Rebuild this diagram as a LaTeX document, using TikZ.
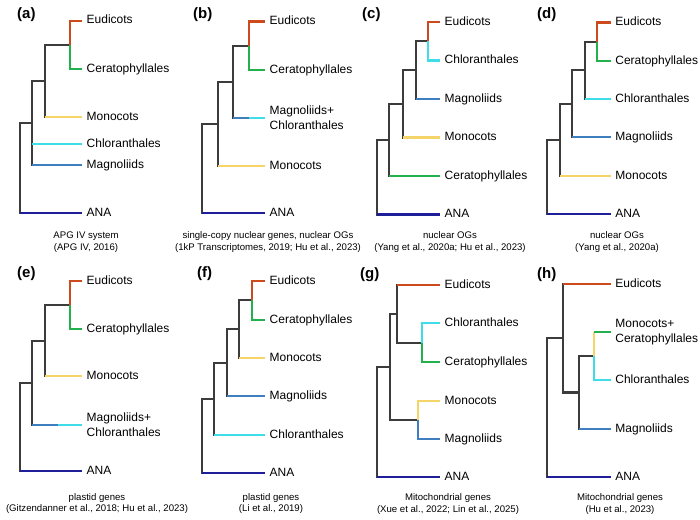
\documentclass[tikz,border=0pt]{standalone}
\usepackage{fontspec}
\setmainfont{Liberation Sans}

\definecolor{eudc}{HTML}{CC4A1C}
\definecolor{cerc}{HTML}{22B14C}
\definecolor{monc}{HTML}{F5D46A}
\definecolor{chlc}{HTML}{3FDDE8}
\definecolor{magc}{HTML}{3F7FBF}
\definecolor{anac}{HTML}{1E1E99}
\definecolor{treec}{HTML}{3C3C3C}

\begin{document}
\begin{tikzpicture}[x=1pt, y=-1pt,
    tree/.style={line width=2.1pt, color=treec, line cap=rect},
    branch/.style={line width=2.1pt},
    leaf/.style={anchor=west, inner xsep=4.5pt, inner ysep=0pt, text height=6.6pt, text depth=0pt,
      font=\fontsize{12}{15}\selectfont},
    leaftwo/.style={anchor=west, inner xsep=4.5pt, inner ysep=0pt, align=left,
      font=\fontsize{12}{15}\selectfont},
    captxt/.style={align=center, inner sep=0pt, font=\fontsize{9.6}{11.5}\selectfont},
    paneltag/.style={anchor=west, inner sep=0pt, font=\fontsize{15}{17}\selectfont\bfseries}]

          \useasboundingbox (0,0) rectangle (700,519);

          % (a)
          \node[paneltag] (aTag) at (17,15) {(a)};
          \node[leaf] (aEud) at (82,20.7) {Eudicots};
          \node[leaf] (aCer) at (82,69.3) {Ceratophyllales};
          \node[leaf] (aMon) at (82,117) {Monocots};
          \node[leaf] (aChl) at (82,144) {Chloranthales};
          \node[leaf] (aMag) at (82,165) {Magnoliids};
          \node[leaf] (aANA) at (82,213) {ANA};
          \coordinate (aEC) at (70,45);
          \coordinate (aECM) at (45,81);
          \coordinate (aCore) at (32,123);
          \coordinate (aRoot) at (20,168);
          \draw[tree] (aECM) |- (aEC);
          \draw[tree] (aECM) -- (aECM |- aMon);
          \draw[tree] (aCore) |- (aECM);
          \draw[tree] (aCore) -- (aCore |- aMag);
          \draw[tree] (aRoot) |- (aCore);
          \draw[tree] (aRoot) -- (aRoot |- aANA);
          \draw[branch, eudc] (aEC) |- (aEud);
          \draw[branch, cerc] (aEC) |- (aCer);
          \draw[branch, monc] (aECM |- aMon) -- (aMon);
          \draw[branch, chlc] (aCore |- aChl) -- (aChl);
          \draw[branch, magc] (aCore |- aMag) -- (aMag);
          \draw[branch, anac] (aRoot |- aANA) -- (aANA);
          \node[captxt] (aCap) at (86,242) {APG IV system\\(APG IV, 2016)};

          % (b)
          \node[paneltag] (bTag) at (193,15) {(b)};
          \node[leaf] (bEud) at (265,21.5) {Eudicots};
          \node[leaf] (bCer) at (265,70) {Ceratophyllales};
          \node[leaftwo] (bMC) at (265,118) {Magnoliids+\\Chloranthales};
          \node[leaf] (bMon) at (265,166) {Monocots};
          \node[leaf] (bANA) at (265,213) {ANA};
          \coordinate (bEC) at (249,45.75);
          \coordinate (bECM) at (233,81.9);
          \coordinate (bCore) at (218,124);
          \coordinate (bRoot) at (202,168.5);
          \coordinate (bMid) at (249,118);
          \draw[tree] (bECM) |- (bEC);
          \draw[tree] (bECM) -- (bECM |- bMC);
          \draw[tree] (bCore) |- (bECM);
          \draw[tree] (bCore) -- (bCore |- bMon);
          \draw[tree] (bRoot) |- (bCore);
          \draw[tree] (bRoot) -- (bRoot |- bANA);
          \draw[branch, eudc] (bEC) |- (bEud);
          \draw[branch, cerc] (bEC) |- (bCer);
          \draw[branch, magc] (bECM |- bMC) -- (bMid);
          \draw[branch, chlc] (bMid) -- (bMC);
          \draw[branch, monc] (bCore |- bMon) -- (bMon);
          \draw[branch, anac] (bRoot |- bANA) -- (bANA);
          \node[captxt] (bCap) at (268,242) {single-copy nuclear genes, nuclear OGs\\(1kP Transcriptomes, 2019; Hu et al., 2023)};

          % (c)
          \node[paneltag] (cTag) at (362,15) {(c)};
          \node[leaf] (cEud) at (440,22) {Eudicots};
          \node[leaf] (cChl) at (440,60.5) {Chloranthales};
          \node[leaf] (cMag) at (440,99) {Magnoliids};
          \node[leaf] (cMon) at (440,137.5) {Monocots};
          \node[leaf] (cCer) at (440,176) {Ceratophyllales};
          \node[leaf] (cANA) at (440,214.5) {ANA};
          \coordinate (cEC) at (427.7,41.25);
          \coordinate (cN2) at (415.7,70.1);
          \coordinate (cN3) at (403.3,103.8);
          \coordinate (cN4) at (389.3,139.9);
          \coordinate (cRoot) at (377.3,177.2);
          \draw[tree] (cN2) |- (cEC);
          \draw[tree] (cN2) -- (cN2 |- cMag);
          \draw[tree] (cN3) |- (cN2);
          \draw[tree] (cN3) -- (cN3 |- cMon);
          \draw[tree] (cN4) |- (cN3);
          \draw[tree] (cN4) -- (cN4 |- cCer);
          \draw[tree] (cRoot) |- (cN4);
          \draw[tree] (cRoot) -- (cRoot |- cANA);
          \draw[branch, eudc] (cEC) |- (cEud);
          \draw[branch, chlc] (cEC) |- (cChl);
          \draw[branch, magc] (cN2 |- cMag) -- (cMag);
          \draw[branch, monc] (cN3 |- cMon) -- (cMon);
          \draw[branch, cerc] (cN4 |- cCer) -- (cCer);
          \draw[branch, anac] (cRoot |- cANA) -- (cANA);
          \node[captxt] (cCap) at (450,242) {nuclear OGs\\(Yang et al., 2020a; Hu et al., 2023)};

          % (d)
          \node[paneltag] (dTag) at (537,15) {(d)};
          \node[leaf] (dEud) at (610.7,22.5) {Eudicots};
          \node[leaf] (dCer) at (610.7,60.7) {Ceratophyllales};
          \node[leaf] (dChl) at (610.7,99) {Chloranthales};
          \node[leaf] (dMag) at (610.7,137.3) {Magnoliids};
          \node[leaf] (dMon) at (610.7,175.7) {Monocots};
          \node[leaf] (dANA) at (610.7,214.3) {ANA};
          \coordinate (dEC) at (597.3,41.6);
          \coordinate (dN2) at (585,70.3);
          \coordinate (dN3) at (572.3,103.8);
          \coordinate (dN4) at (560,139.75);
          \coordinate (dRoot) at (547.3,177);
          \draw[tree] (dN2) |- (dEC);
          \draw[tree] (dN2) -- (dN2 |- dChl);
          \draw[tree] (dN3) |- (dN2);
          \draw[tree] (dN3) -- (dN3 |- dMag);
          \draw[tree] (dN4) |- (dN3);
          \draw[tree] (dN4) -- (dN4 |- dMon);
          \draw[tree] (dRoot) |- (dN4);
          \draw[tree] (dRoot) -- (dRoot |- dANA);
          \draw[branch, eudc] (dEC) |- (dEud);
          \draw[branch, cerc] (dEC) |- (dCer);
          \draw[branch, chlc] (dN2 |- dChl) -- (dChl);
          \draw[branch, magc] (dN3 |- dMag) -- (dMag);
          \draw[branch, monc] (dN4 |- dMon) -- (dMon);
          \draw[branch, anac] (dRoot |- dANA) -- (dANA);
          \node[captxt] (dCap) at (617,242) {nuclear OGs\\(Yang et al., 2020a)};

          % (e)
          \node[paneltag] (eTag) at (17,274) {(e)};
          \node[leaf] (eEud) at (82,280.7) {Eudicots};
          \node[leaf] (eCer) at (82,329) {Ceratophyllales};
          \node[leaf] (eMon) at (82,376.3) {Monocots};
          \node[leaftwo] (eMC) at (82,424.7) {Magnoliids+\\Chloranthales};
          \node[leaf] (eANA) at (82,471.3) {ANA};
          \coordinate (eEC) at (70,304.85);
          \coordinate (eECM) at (45,340.6);
          \coordinate (eCore) at (32,382.6);
          \coordinate (eRoot) at (20,427);
          \coordinate (eMid) at (58,424.7);
          \draw[tree] (eECM) |- (eEC);
          \draw[tree] (eECM) -- (eECM |- eMon);
          \draw[tree] (eCore) |- (eECM);
          \draw[tree] (eCore) -- (eCore |- eMC);
          \draw[tree] (eRoot) |- (eCore);
          \draw[tree] (eRoot) -- (eRoot |- eANA);
          \draw[branch, eudc] (eEC) |- (eEud);
          \draw[branch, cerc] (eEC) |- (eCer);
          \draw[branch, monc] (eECM |- eMon) -- (eMon);
          \draw[branch, magc] (eCore |- eMC) -- (eMid);
          \draw[branch, chlc] (eMid) -- (eMC);
          \draw[branch, anac] (eRoot |- eANA) -- (eANA);
          \node[captxt] (eCap) at (97,503.5) {plastid genes\\(Gitzendanner et al., 2018; Hu et al., 2023)};

          % (f)
          \node[paneltag] (fTag) at (197,274) {(f)};
          \node[leaf] (fEud) at (265,280.7) {Eudicots};
          \node[leaf] (fCer) at (265,319.7) {Ceratophyllales};
          \node[leaf] (fMon) at (265,358) {Monocots};
          \node[leaf] (fMag) at (265,396.3) {Magnoliids};
          \node[leaf] (fChl) at (265,434.7) {Chloranthales};
          \node[leaf] (fANA) at (265,473.3) {ANA};
          \coordinate (fEC) at (251.7,300.2);
          \coordinate (fN2) at (239.3,329.1);
          \coordinate (fN3) at (227.3,362.7);
          \coordinate (fN4) at (214.3,398.7);
          \coordinate (fRoot) at (201.7,436);
          \draw[tree] (fN2) |- (fEC);
          \draw[tree] (fN2) -- (fN2 |- fMon);
          \draw[tree] (fN3) |- (fN2);
          \draw[tree] (fN3) -- (fN3 |- fMag);
          \draw[tree] (fN4) |- (fN3);
          \draw[tree] (fN4) -- (fN4 |- fChl);
          \draw[tree] (fRoot) |- (fN4);
          \draw[tree] (fRoot) -- (fRoot |- fANA);
          \draw[branch, eudc] (fEC) |- (fEud);
          \draw[branch, cerc] (fEC) |- (fCer);
          \draw[branch, monc] (fN2 |- fMon) -- (fMon);
          \draw[branch, magc] (fN3 |- fMag) -- (fMag);
          \draw[branch, chlc] (fN4 |- fChl) -- (fChl);
          \draw[branch, anac] (fRoot |- fANA) -- (fANA);
          \node[captxt] (fCap) at (271,503.5) {plastid genes\\(Li et al., 2019)};

          % (g)
          \node[paneltag] (gTag) at (360,275) {(g)};
          \node[leaf] (gEud) at (440,284.7) {Eudicots};
          \node[leaf] (gChl) at (440,323.3) {Chloranthales};
          \node[leaf] (gCer) at (440,362.3) {Ceratophyllales};
          \node[leaf] (gMon) at (440,400.7) {Monocots};
          \node[leaf] (gMag) at (440,439) {Magnoliids};
          \node[leaf] (gANA) at (440,477.3) {ANA};
          \coordinate (gCC) at (421.7,342.8);
          \coordinate (gMM) at (418.3,419.85);
          \coordinate (gN2) at (397.3,313.75);
          \coordinate (gN3) at (390,366.8);
          \coordinate (gRoot) at (377.3,422);
          \draw[tree] (gN2) -- (gN2 |- gEud);
          \draw[tree] (gN2) |- (gCC);
          \draw[tree] (gN3) |- (gN2);
          \draw[tree] (gN3) |- (gMM);
          \draw[tree] (gRoot) |- (gN3);
          \draw[tree] (gRoot) -- (gRoot |- gANA);
          \draw[branch, eudc] (gN2 |- gEud) -- (gEud);
          \draw[branch, chlc] (gCC) |- (gChl);
          \draw[branch, cerc] (gCC) |- (gCer);
          \draw[branch, monc] (gMM) |- (gMon);
          \draw[branch, magc] (gMM) |- (gMag);
          \draw[branch, anac] (gRoot |- gANA) -- (gANA);
          \node[captxt] (gCap) at (448,504) {Mitochondrial genes\\(Xue et al., 2022; Lin et al., 2025)};

          % (h)
          \node[paneltag] (hTag) at (537,275) {(h)};
          \node[leaf] (hEud) at (610.7,284) {Eudicots};
          \node[leaftwo] (hMC) at (610.7,332.3) {Monocots+\\Ceratophyllales};
          \node[leaf] (hChl) at (610.7,379.7) {Chloranthales};
          \node[leaf] (hMag) at (610.7,429) {Magnoliids};
          \node[leaf] (hANA) at (610.7,477.3) {ANA};
          \coordinate (hCC) at (594,356);
          \coordinate (hN2) at (579,392.5);
          \coordinate (hN3) at (562.7,338.25);
          \coordinate (hRoot) at (547.3,407.8);
          \draw[tree] (hN3) -- (hN3 |- hEud);
          \draw[tree] (hN3) |- (hN2);
          \draw[tree] (hN2) |- (hCC);
          \draw[tree] (hN2) -- (hN2 |- hMag);
          \draw[tree] (hRoot) |- (hN3);
          \draw[tree] (hRoot) -- (hRoot |- hANA);
          \draw[branch, eudc] (hN3 |- hEud) -- (hEud);
          \draw[branch, monc] (hCC) -- (hCC |- hMC);
          \draw[branch, cerc] (hCC |- hMC) -- (hMC);
          \draw[branch, chlc] (hCC) |- (hChl);
          \draw[branch, magc] (hN2 |- hMag) -- (hMag);
          \draw[branch, anac] (hRoot |- hANA) -- (hANA);
          \node[captxt] (hCap) at (620,504) {Mitochondrial genes\\(Hu et al., 2023)};

        \end{tikzpicture}
\end{document}
